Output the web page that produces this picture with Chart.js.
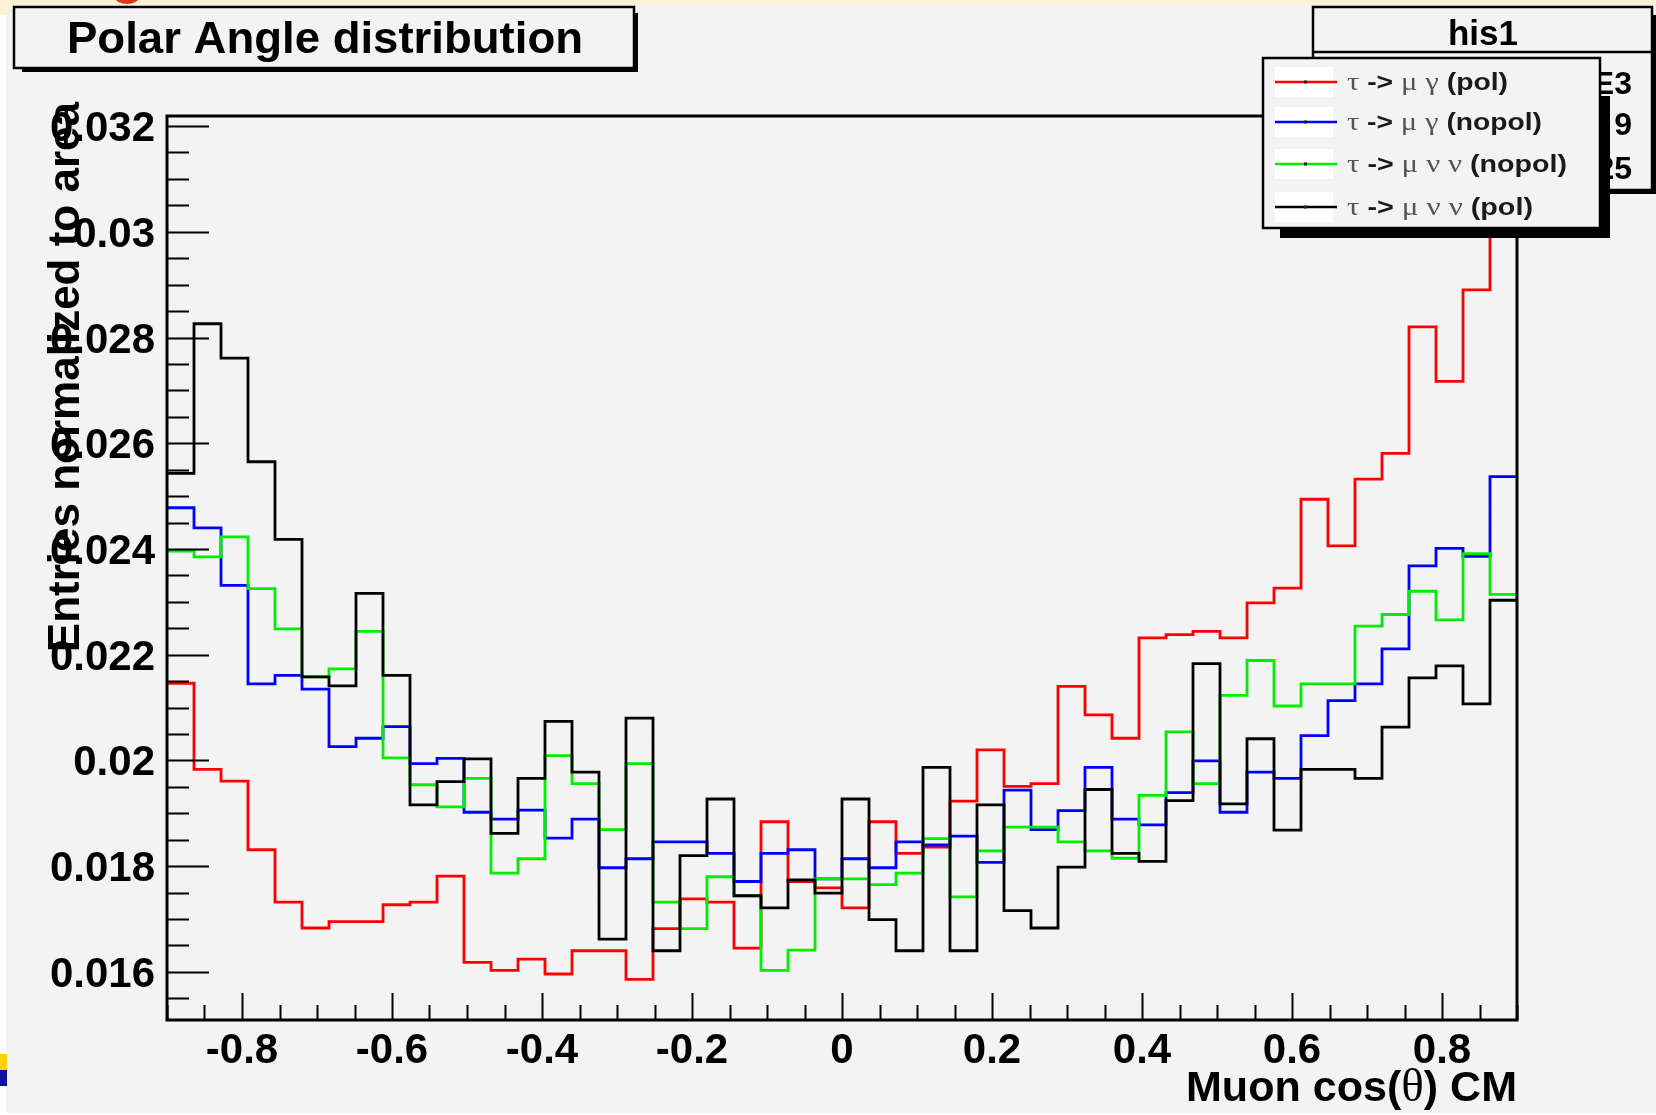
<!DOCTYPE html>
<html><head><meta charset="utf-8">
<script src="https://cdn.jsdelivr.net/npm/chart.js@4.4.1/dist/chart.umd.min.js"></script>
<style>html,body{margin:0;padding:0;background:#fff;overflow:hidden}canvas{display:block}</style>
</head><body>
<canvas id="c" width="1656" height="1115"></canvas>
<script>
// ---- data ----
const nBins = 50;
const xLow = -0.9;
const xHigh = 0.9;
const seriesLabels = ["τ -> μ γ (pol)", "τ -> μ γ (nopol)", "τ -> μ ν ν (nopol)", "τ -> μ ν ν (pol)"];
const muGammaPol = [
0.02146,0.01983,0.01961,0.01831,0.01732,0.01683,0.01695,0.01695,0.01727,0.01732,
0.01781,0.01618,0.01603,0.01624,0.01596,0.01640,0.01640,0.01586,0.01682,0.01738,
0.01732,0.01645,0.01884,0.01771,0.01759,0.01721,0.01884,0.01824,0.01836,0.01923,
0.02020,0.01951,0.01956,0.02140,0.02086,0.02042,0.02232,0.02238,0.02244,0.02232,
0.02298,0.02326,0.02494,0.02406,0.02532,0.02581,0.02820,0.02717,0.02890,0.03150];
const muGammaNopol = [
0.02478,0.02440,0.02331,0.02145,0.02161,0.02135,0.02026,0.02042,0.02064,0.01994,
0.02004,0.01902,0.01889,0.01906,0.01853,0.01889,0.01797,0.01814,0.01846,0.01846,
0.01824,0.01771,0.01824,0.01831,0.01776,0.01814,0.01797,0.01846,0.01840,0.01857,
0.01807,0.01944,0.01869,0.01905,0.01987,0.01889,0.01878,0.01939,0.01999,0.01902,
0.01978,0.01966,0.02047,0.02113,0.02145,0.02211,0.02368,0.02401,0.02386,0.02537];
const muNuNuNopol = [
0.02396,0.02385,0.02423,0.02325,0.02249,0.02158,0.02173,0.02244,0.02005,0.01954,
0.01912,0.01966,0.01787,0.01814,0.02009,0.01956,0.01869,0.01994,0.01732,0.01682,
0.01780,0.01744,0.01603,0.01641,0.01776,0.01776,0.01765,0.01787,0.01852,0.01742,
0.01829,0.01874,0.01874,0.01846,0.01829,0.01815,0.01934,0.02054,0.01956,0.02123,
0.02189,0.02103,0.02145,0.02145,0.02254,0.02276,0.02320,0.02266,0.02391,0.02314];
const muNuNuPol = [
0.02543,0.02826,0.02761,0.02565,0.02418,0.02158,0.02141,0.02316,0.02161,0.01916,
0.01960,0.02003,0.01862,0.01966,0.02074,0.01978,0.01662,0.02080,0.01640,0.01820,
0.01927,0.01744,0.01721,0.01774,0.01749,0.01927,0.01699,0.01640,0.01987,0.01640,
0.01916,0.01716,0.01683,0.01798,0.01945,0.01824,0.01809,0.01924,0.02183,0.01918,
0.02041,0.01868,0.01983,0.01983,0.01966,0.02063,0.02156,0.02179,0.02107,0.02303];
const xTickLabels = ["-0.8","-0.6","-0.4","-0.2","0","0.2","0.4","0.6","0.8"];
const yTickLabels = ["0.016","0.018","0.02","0.022","0.024","0.026","0.028","0.03","0.032"];
const statsTexts = ["E3","9","25"];
const chartTitle = "Polar Angle distribution";
const statsTitle = "his1";
const xTitle = "Muon cos(θ) CM";
const yTitle = "Entries normalized to area";

// ---- helpers ----
function histPoints(vals){
  const w = (xHigh - xLow) / nBins, pts = [];
  for (let k = 0; k <= nBins; k++) pts.push({x: xLow + k*w, y: vals[Math.min(k, nBins-1)]});
  return pts;
}
const SANS = '"Liberation Sans", Arial, Helvetica, sans-serif';
const SERIF = '"Liberation Serif", "DejaVu Serif", serif';
const isGreek = s => /[\u0370-\u03ff]/.test(s);
function drawMixed(ctx, str, x, y, size, targetW, align, gcol, bcol){
  const parts = str.match(/[\u0370-\u03ff]+|[^\u0370-\u03ff]+/g);
  const fG = `${Math.round(size*1.1)}px ${SERIF}`, fB = `bold ${size}px ${SANS}`;
  let w = 0;
  parts.forEach(p => { ctx.font = isGreek(p) ? fG : fB; w += ctx.measureText(p).width; });
  const sx = targetW ? targetW / w : 1;
  ctx.save();
  ctx.translate(align === 'right' ? x - w*sx : x, y);
  ctx.scale(sx, 1);
  ctx.textAlign = 'left'; ctx.textBaseline = 'alphabetic';
  let cx = 0;
  parts.forEach(p => {
    const g = isGreek(p);
    ctx.font = g ? fG : fB; ctx.fillStyle = g ? gcol : bcol;
    ctx.fillText(p, cx, 0); cx += ctx.measureText(p).width;
  });
  ctx.restore();
}
function paveBox(ctx, l, t, r, b, shadowOffX, shadowOffY, sw){
  ctx.fillStyle = '#000';
  ctx.fillRect(r, t + shadowOffY, sw, b - t - shadowOffY + sw);
  ctx.fillRect(l + shadowOffX, b, r - l - shadowOffX + sw, sw);
  ctx.fillStyle = '#f3f3f3';
  ctx.fillRect(l, t, r - l, b - t);
  ctx.strokeStyle = '#000'; ctx.lineWidth = 2.5;
  ctx.strokeRect(l, t, r - l, b - t);
}

const decor = {
  id: 'decor',
  beforeDraw(chart){
    const ctx = chart.ctx;
    ctx.save();
    ctx.fillStyle = '#ffffff'; ctx.fillRect(0, 0, 1656, 1115);
    ctx.fillStyle = '#f3f3f3'; ctx.fillRect(6, 5, 1650, 1108);
    ctx.fillStyle = '#fdf2d6'; ctx.fillRect(0, 0, 1656, 5); ctx.fillRect(0, 0, 10, 15);
    ctx.fillStyle = '#d8391c'; ctx.beginPath(); ctx.ellipse(127, -3, 12, 7, 0, 0, Math.PI*2); ctx.fill();
    ctx.fillStyle = '#ffd200'; ctx.fillRect(0, 1054, 7, 16);
    ctx.fillStyle = '#0a14a0'; ctx.fillRect(0, 1070, 7, 16);
    ctx.restore();
  },
  afterDatasetsDraw(chart){
    const ctx = chart.ctx, xs = chart.scales.x, ys = chart.scales.y;
    const {left, right, top, bottom} = chart.chartArea;
    ctx.save();
    // frame
    ctx.strokeStyle = '#000'; ctx.lineWidth = 3;
    ctx.strokeRect(left, top, right - left, bottom - top);
    // y ticks (inward)
    ctx.lineWidth = 2;
    const yStep = 0.0005;
    for (let i = Math.ceil(ys.min / yStep - 1e-6); i * yStep <= ys.max + 1e-9; i++){
      const py = Math.round(ys.getPixelForValue(i * yStep)) + 0.5;
      const len = (i % 4 === 0) ? 42 : 22;
      ctx.beginPath(); ctx.moveTo(left, py); ctx.lineTo(left + len, py); ctx.stroke();
    }
    const xStep = 0.05;
    for (let i = Math.ceil(xs.min / xStep - 1e-6); i * xStep <= xs.max + 1e-9; i++){
      const px = Math.round(xs.getPixelForValue(i * xStep)) + 0.5;
      const len = (i % 4 === 0) ? 27 : 15;
      ctx.beginPath(); ctx.moveTo(px, bottom); ctx.lineTo(px, bottom - len); ctx.stroke();
    }
    // tick labels
    ctx.fillStyle = '#000';
    ctx.font = `bold 42px ${SANS}`;
    ctx.textBaseline = 'alphabetic';
    ctx.textAlign = 'right';
    yTickLabels.forEach(lb => {
      const py = ys.getPixelForValue(parseFloat(lb));
      ctx.fillText(lb, 155, py + 15);
    });
    ctx.textAlign = 'center';
    xTickLabels.forEach(lb => {
      const px = xs.getPixelForValue(parseFloat(lb));
      ctx.fillText(lb, px, 1063);
    });
    // axis titles
    drawMixed(ctx, xTitle, right, 1101, 43, 331, 'right', '#000', '#000');
    ctx.save();
    ctx.translate(79, 102); ctx.rotate(-Math.PI/2);
    ctx.font = `bold 44px ${SANS}`; ctx.textAlign = 'right'; ctx.fillStyle = '#000';
    ctx.fillText(yTitle, 0, 0);
    ctx.restore();
    // title box
    paveBox(ctx, 14, 7, 634, 68, 8, 6, 4);
    ctx.save();
    ctx.font = `bold 44px ${SANS}`;
    const tw = ctx.measureText(chartTitle).width;
    ctx.translate(67, 53); ctx.scale(516 / tw, 1);
    ctx.fillStyle = '#000'; ctx.textAlign = 'left'; ctx.fillText(chartTitle, 0, 0);
    ctx.restore();
    // stats box
    paveBox(ctx, 1313, 7, 1652, 190, 8, 8, 4);
    ctx.strokeStyle = '#000'; ctx.lineWidth = 2.5;
    ctx.beginPath(); ctx.moveTo(1313, 52); ctx.lineTo(1652, 52); ctx.stroke();
    ctx.fillStyle = '#000'; ctx.font = `bold 35px ${SANS}`; ctx.textAlign = 'center';
    ctx.fillText(statsTitle, 1483, 45);
    ctx.font = `bold 32px ${SANS}`; ctx.textAlign = 'right';
    const statY = [94, 135, 179];
    statsTexts.forEach((s, i) => ctx.fillText(s, 1632, statY[i]));
    // legend
    const L = 1263, T = 58, R = 1600, B = 228;
    paveBox(ctx, L, T, R, B, 17, 38, 10);
    const rowY = [82, 122, 164, 207];
    const rowW = [161, 195, 220, 186];
    const ds = chart.data.datasets;
    ds.forEach((d, i) => {
      const cy = rowY[i];
      ctx.fillStyle = '#ffffff'; ctx.fillRect(1275, cy - 15, 58, 30);
      ctx.strokeStyle = d.borderColor; ctx.lineWidth = 2.5;
      ctx.beginPath(); ctx.moveTo(1275, cy); ctx.lineTo(1337, cy); ctx.stroke();
      ctx.fillStyle = '#222'; ctx.fillRect(1304, cy - 1.5, 3, 3);
      drawMixed(ctx, d.label, 1347, cy + 8, 24, rowW[i], 'left', '#555', '#1a1a1a');
    });
    ctx.restore();
  }
};

const series = [muGammaPol, muGammaNopol, muNuNuNopol, muNuNuPol];
const colors = ['#ff0000', '#0000ff', '#00ee00', '#000000'];
const datasets = series.map((vals, i) => ({
  label: seriesLabels[i],
  data: histPoints(vals),
  borderColor: colors[i],
  borderWidth: 2.8,
  stepped: 'before',
  pointRadius: 0,
  fill: false,
  order: 4 - i
}));

new Chart(document.getElementById('c'), {
  type: 'line',
  data: { datasets },
  options: {
    responsive: false,
    animation: false,
    devicePixelRatio: 1,
    layout: { padding: { left: 167, right: 139, top: 116, bottom: 95 } },
    plugins: { legend: { display: false }, tooltip: { enabled: false }, title: { display: false } },
    scales: {
      x: { type: 'linear', min: xLow, max: xHigh, display: false },
      y: { type: 'linear', min: 0.01509, max: 0.03219, display: false }
    }
  },
  plugins: [decor]
});
</script>
</body></html>
